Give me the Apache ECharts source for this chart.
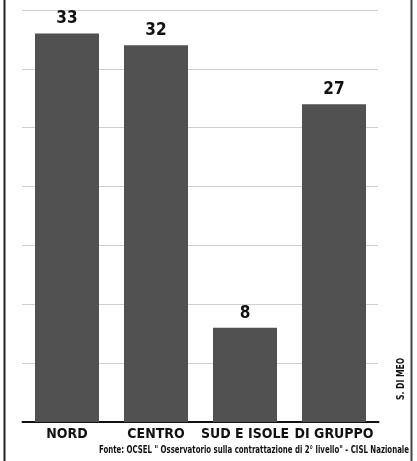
<!DOCTYPE html>
<html>
<head>
<meta charset="utf-8">
<script src="https://cdn.jsdelivr.net/npm/echarts@6/dist/echarts.min.js"></script>
<style>
  html, body { margin: 0; padding: 0; background: #fff; }
  #chart { width: 417px; height: 461px; }
</style>
</head>
<body>
<div id="chart"></div>
<script>
// Contratti di secondo livello per area geografica
const categories = ['NORD', 'CENTRO', 'SUD E ISOLE', 'DI GRUPPO'];
const values = [33, 32, 8, 27];
const axisMax = 35;
const axisStep = 5;
const sourceText = 'Fonte: OCSEL " Osservatorio sulla contrattazione di 2° livello" - CISL Nazionale';
const authorText = 'S. DI MEO';

const FONT = '"DejaVu Sans Condensed", "DejaVu Sans", sans-serif';

// squeeze the source line into its slot with a horizontal scale
const sourceFont = 'bold 11px ' + FONT;
const sourceWidth = 310;
const ctx = document.createElement('canvas').getContext('2d');
ctx.font = sourceFont;
const sourceScale = sourceWidth / ctx.measureText(sourceText).width;

const chart = echarts.init(document.getElementById('chart'), null, { renderer: 'canvas' });

chart.setOption({
  animation: false,
  backgroundColor: '#ffffff',
  grid: { left: 22.5, right: 38.5, top: 10, bottom: 39 },
  xAxis: {
    type: 'category',
    data: categories,
    axisLine: { lineStyle: { color: '#111', width: 2 } },
    axisTick: { show: false },
    axisLabel: {
      interval: 0,
      margin: 5,
      color: '#111',
      fontFamily: FONT,
      fontWeight: 'bold',
      fontSize: 14
    }
  },
  yAxis: {
    type: 'value',
    min: 0,
    max: axisMax,
    interval: axisStep,
    axisLine: { show: false },
    axisTick: { show: false },
    axisLabel: { show: false },
    splitLine: { lineStyle: { color: '#a0a0a0', type: [1, 1], width: 1 } }
  },
  series: [{
    type: 'bar',
    data: values,
    barWidth: 64,
    itemStyle: { color: '#515151' },
    label: {
      show: true,
      position: 'top',
      distance: 6,
      color: '#111',
      fontFamily: FONT,
      fontWeight: 'bold',
      fontSize: 17
    }
  }],
  graphic: [
    { type: 'line', shape: { x1: 4.5, y1: 0, x2: 4.5, y2: 461 }, style: { stroke: '#222', lineWidth: 2 } },
    { type: 'line', shape: { x1: 411.5, y1: 0, x2: 411.5, y2: 461 }, style: { stroke: '#444', lineWidth: 2 } },
    {
      type: 'text', x: 409, y: 445, scaleX: sourceScale,
      style: { text: sourceText, fill: '#111', font: sourceFont, align: 'right', verticalAlign: 'top' }
    },
    {
      type: 'text', x: 396, y: 400, rotation: Math.PI / 2, scaleX: 0.85,
      style: { text: authorText, fill: '#111', font: 'bold 10px ' + FONT, verticalAlign: 'top' }
    }
  ]
});
</script>
</body>
</html>
